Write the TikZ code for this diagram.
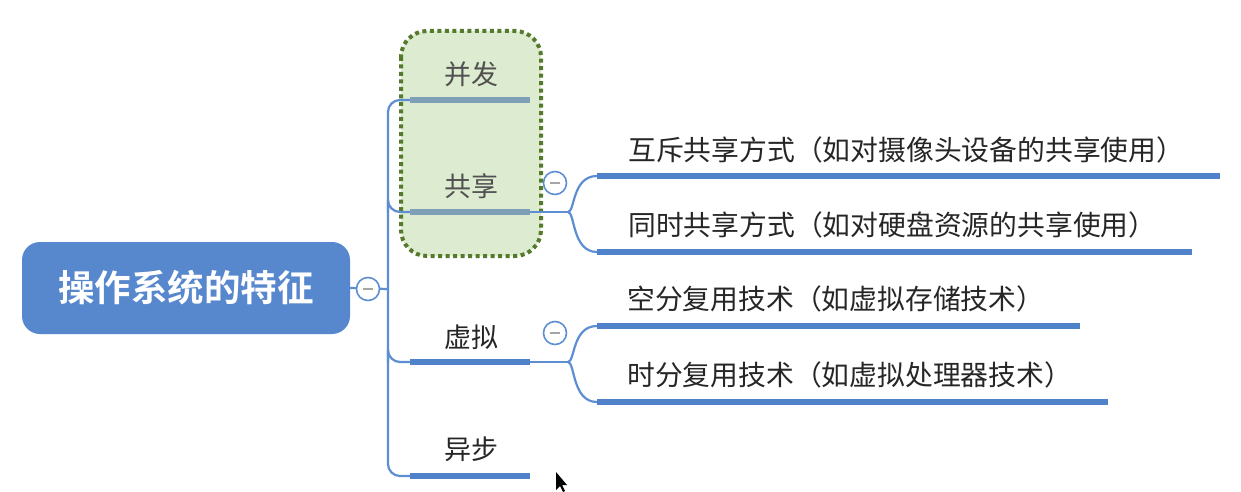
\documentclass[tikz,border=0pt]{standalone}
\usepackage{fontspec}
\setmainfont{Noto Sans CJK SC}[BoldFont={Noto Sans CJK SC Bold}]
\definecolor{rootblue}{HTML}{5787CC}
\definecolor{barblue}{HTML}{4F82C8}
\definecolor{linkblue}{HTML}{5E8ED2}
\definecolor{greenfill}{HTML}{DDEBD0}
\definecolor{greendot}{HTML}{557A2C}
\definecolor{greybar}{HTML}{7E9FB6}
\definecolor{txt}{HTML}{262626}
\begin{document}
\begin{tikzpicture}[x=1pt,y=-1pt,
  rootbox/.style={draw=none,fill=rootblue,rounded corners=18pt,minimum width=328pt,minimum height=92pt,text=white,font=\fontsize{36.5}{38}\selectfont\bfseries},
  lbl/.style={text=txt,font=\fontsize{27}{30}\selectfont,inner sep=0pt},
  sublbl/.style={text=txt,font=\fontsize{27.8}{30}\selectfont,inner sep=0pt,anchor=west},
  bar/.style={line width=6.5pt,draw=barblue},
  gbar/.style={line width=6.5pt,draw=greybar},
  link/.style={line width=2.2pt,draw=linkblue,rounded corners=12pt},
  toggle/.style={circle,draw=linkblue,line width=1.6pt,fill=white,minimum size=23pt,inner sep=0pt},
  minus/.style={line width=2pt,draw=gray!70}
]
\useasboundingbox (0,0) rectangle (1241,492);
\fill[white] (0,0) rectangle (1241,492);

% green highlight box
\draw[greendot,fill=greenfill,line width=4pt,dash pattern=on 4pt off 3.5pt,rounded corners=26pt] (401,31) rectangle (541,256);

% root
\node[rootbox] (root) at (186,288) {操作系统的特征};

% trunk
\coordinate (tA) at (410,100);
\coordinate (tB) at (410,212);
\coordinate (tC) at (410,362);
\coordinate (tD) at (410,476);
\coordinate (tM) at (388,289);
\draw[link] (tA) -- (388,100) -- (388,476) -- (tD);
\draw[link] (388,212) |- (tB);
\draw[link] (388,362) |- (tC);
\draw[link] (root.east) -- (tM);
\node[toggle] (t0) at (368,289) {};
\draw[minus] ([xshift=-5pt]t0.center) -- ([xshift=5pt]t0.center);

% first-level bars
\coordinate (eA) at (530,100);
\coordinate (eB) at (530,212);
\coordinate (eC) at (530,362);
\coordinate (eD) at (530,476);
\draw[gbar] (tA) -- (eA);
\draw[gbar] (tB) -- (eB);
\draw[bar] (tC) -- (eC);
\draw[bar] (tD) -- (eD);

\node[lbl,text=txt!80] (bf) at (471,74) {并发};
\node[lbl,text=txt!80] (gx) at (471,186) {共享};
\node[lbl] (xn) at (471,337) {虚拟};
\node[lbl] (yb) at (471,449) {异步};

% sharing branch
\coordinate (s1a) at (597,176);
\coordinate (s1b) at (1220,176);
\coordinate (s2a) at (597,252);
\coordinate (s2b) at (1192,252);
\coordinate (sj) at (568,212);
\draw[line width=2.2pt,draw=linkblue] (eB) -- (sj);
\draw[line width=2.2pt,draw=linkblue] (sj) .. controls (575,212) and (572,176) .. (s1a);
\draw[line width=2.2pt,draw=linkblue] (sj) .. controls (575,212) and (572,252) .. (s2a);
\draw[bar] (s1a) -- (s1b);
\draw[bar] (s2a) -- (s2b);
\node[toggle] (t1) at (555,183) {};
\draw[minus] ([xshift=-5pt]t1.center) -- ([xshift=5pt]t1.center);
\node[sublbl] (hc) at (628,150) {互斥共享方式（如对摄像头设备的共享使用）};
\node[sublbl] (ts) at (628,225) {同时共享方式（如对硬盘资源的共享使用）};

% virtual branch
\coordinate (v1a) at (597,326);
\coordinate (v1b) at (1080,326);
\coordinate (v2a) at (597,402);
\coordinate (v2b) at (1108,402);
\coordinate (vj) at (568,362);
\draw[line width=2.2pt,draw=linkblue] (eC) -- (vj);
\draw[line width=2.2pt,draw=linkblue] (vj) .. controls (575,362) and (572,326) .. (v1a);
\draw[line width=2.2pt,draw=linkblue] (vj) .. controls (575,362) and (572,402) .. (v2a);
\draw[bar] (v1a) -- (v1b);
\draw[bar] (v2a) -- (v2b);
\node[toggle] (t2) at (555,333) {};
\draw[minus] ([xshift=-5pt]t2.center) -- ([xshift=5pt]t2.center);
\node[sublbl] (kf) at (627,299) {空分复用技术（如虚拟存储技术）};
\node[sublbl] (sf) at (627,375) {时分复用技术（如虚拟处理器技术）};

% mouse cursor
\fill[black] (556,472) -- (556,490) -- (560,486) -- (563,492) -- (565,491) -- (562,485) -- (567,485) -- cycle;
\end{tikzpicture}
\end{document}
